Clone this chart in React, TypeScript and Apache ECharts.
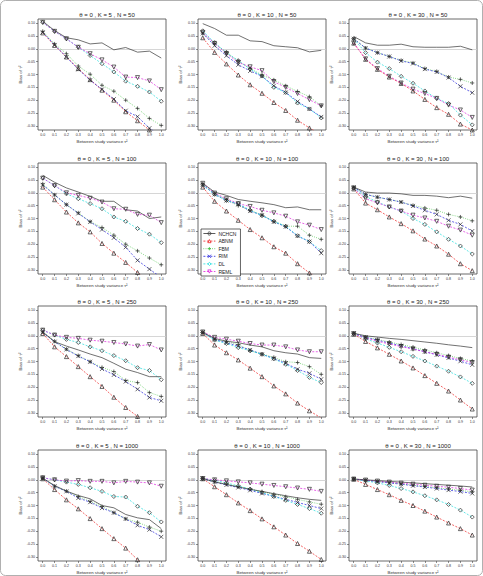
import React, { useEffect, useRef } from "react";
import * as echarts from "echarts";

// Between-study variance grid (x axis)
const tau2 = [0, 0.1, 0.2, 0.3, 0.4, 0.5, 0.6, 0.7, 0.8, 0.9, 1.0];
const xTicks = [0, 0.1, 0.2, 0.3, 0.4, 0.5, 0.6, 0.7, 0.8, 0.9, 1.0];
const yTicks = [-0.3, -0.25, -0.2, -0.15, -0.1, -0.05, 0, 0.05, 0.1];
const methods = ["NCHCN", "ABNM", "FBM", "RIM", "DL", "REML"];
const panelK = [5, 10, 30, 5, 10, 30, 5, 10, 30, 5, 10, 30];
const panelN = [50, 50, 50, 100, 100, 100, 250, 250, 250, 1000, 1000, 1000];

// Bias of tau^2, rows in the order of `methods`
const biasK5N50 = [
  [0.107, 0.071, 0.043, 0.035, 0.019, 0.023, -0.004, 0.005, -0.013, -0.009, -0.036],
  [0.062, 0.013, -0.032, -0.077, -0.12, -0.161, -0.2, -0.245, -0.28, -0.316, -0.35],
  [0.068, 0.019, -0.019, -0.067, -0.099, -0.142, -0.165, -0.2, -0.232, -0.271, -0.298],
  [0.064, 0.015, -0.032, -0.08, -0.122, -0.158, -0.196, -0.241, -0.264, -0.309, -0.34],
  [0.103, 0.068, 0.039, 0.006, -0.026, -0.058, -0.09, -0.126, -0.146, -0.168, -0.204],
  [0.103, 0.068, 0.039, 0.006, -0.019, -0.043, -0.071, -0.11, -0.112, -0.125, -0.159],
];
const biasK10N50 = [
  [0.098, 0.079, 0.053, 0.053, 0.031, 0.028, 0.012, 0.008, 0.004, -0.012, -0.006],
  [0.043, -0.014, -0.059, -0.102, -0.14, -0.173, -0.209, -0.24, -0.278, -0.308, -0.335],
  [0.061, 0.021, -0.014, -0.048, -0.077, -0.102, -0.121, -0.144, -0.166, -0.186, -0.222],
  [0.06, 0.012, -0.027, -0.062, -0.086, -0.107, -0.144, -0.17, -0.205, -0.234, -0.265],
  [0.07, 0.024, -0.015, -0.046, -0.079, -0.106, -0.15, -0.17, -0.211, -0.234, -0.269],
  [0.064, 0.021, -0.018, -0.053, -0.07, -0.085, -0.128, -0.15, -0.174, -0.198, -0.222],
];
const biasK30N50 = [
  [0.048, 0.023, 0.014, 0.014, 0.018, 0.008, 0.006, 0.006, 0.006, 0.01, -0.004],
  [0.022, -0.041, -0.08, -0.11, -0.135, -0.164, -0.197, -0.229, -0.255, -0.293, -0.316],
  [0.039, 0.003, -0.015, -0.03, -0.045, -0.055, -0.077, -0.088, -0.11, -0.119, -0.133],
  [0.039, 0.003, -0.015, -0.03, -0.047, -0.057, -0.079, -0.09, -0.112, -0.146, -0.171],
  [0.039, -0.015, -0.052, -0.077, -0.107, -0.134, -0.164, -0.193, -0.213, -0.258, -0.296],
  [0.022, -0.039, -0.077, -0.107, -0.133, -0.157, -0.174, -0.193, -0.219, -0.238, -0.267],
];
const biasK5N100 = [
  [0.068, 0.041, 0.019, 0.003, -0.014, -0.033, -0.033, -0.066, -0.071, -0.1, -0.094],
  [0.022, -0.027, -0.075, -0.117, -0.152, -0.197, -0.235, -0.271, -0.31, -0.345, -0.38],
  [0.035, -0.008, -0.046, -0.078, -0.112, -0.135, -0.165, -0.2, -0.226, -0.254, -0.28],
  [0.031, -0.008, -0.046, -0.08, -0.113, -0.143, -0.175, -0.212, -0.263, -0.297, -0.33],
  [0.057, 0.028, -0.004, -0.023, -0.042, -0.062, -0.094, -0.111, -0.139, -0.161, -0.194],
  [0.057, 0.028, 0.0, -0.01, -0.021, -0.036, -0.062, -0.064, -0.084, -0.087, -0.116],
];
const biasK10N100 = [
  [0.037, 0.003, -0.01, -0.026, -0.033, -0.039, -0.046, -0.058, -0.055, -0.066, -0.066],
  [0.022, -0.033, -0.071, -0.107, -0.143, -0.175, -0.21, -0.235, -0.276, -0.312, -0.34],
  [0.035, -0.004, -0.027, -0.05, -0.068, -0.087, -0.111, -0.13, -0.13, -0.165, -0.181],
  [0.031, -0.006, -0.03, -0.045, -0.071, -0.087, -0.113, -0.132, -0.168, -0.19, -0.235],
  [0.031, -0.006, -0.03, -0.042, -0.068, -0.089, -0.111, -0.13, -0.167, -0.19, -0.225],
  [0.037, -0.001, -0.023, -0.042, -0.053, -0.068, -0.078, -0.091, -0.113, -0.126, -0.143],
];
const biasK30N100 = [
  [0.022, 0.003, -0.001, -0.001, -0.004, -0.01, -0.01, -0.013, -0.019, -0.013, -0.021],
  [0.015, -0.04, -0.066, -0.094, -0.12, -0.148, -0.18, -0.207, -0.239, -0.276, -0.303],
  [0.022, -0.006, -0.017, -0.026, -0.036, -0.049, -0.059, -0.068, -0.084, -0.094, -0.109],
  [0.022, -0.006, -0.017, -0.026, -0.036, -0.051, -0.068, -0.084, -0.107, -0.123, -0.149],
  [0.018, -0.014, -0.036, -0.055, -0.071, -0.1, -0.123, -0.152, -0.181, -0.207, -0.238],
  [0.018, -0.023, -0.039, -0.055, -0.071, -0.087, -0.098, -0.111, -0.13, -0.145, -0.165],
];
const biasK5N250 = [
  [0.015, -0.023, -0.04, -0.055, -0.071, -0.085, -0.107, -0.13, -0.143, -0.159, -0.159],
  [0.009, -0.043, -0.081, -0.12, -0.159, -0.197, -0.239, -0.279, -0.314, -0.35, -0.39],
  [0.015, -0.021, -0.052, -0.077, -0.101, -0.123, -0.139, -0.174, -0.182, -0.221, -0.236],
  [0.013, -0.023, -0.053, -0.079, -0.101, -0.129, -0.152, -0.178, -0.208, -0.24, -0.253],
  [0.022, 0.003, -0.014, -0.026, -0.043, -0.058, -0.077, -0.097, -0.124, -0.135, -0.171],
  [0.022, 0.003, -0.006, -0.01, -0.017, -0.021, -0.026, -0.032, -0.04, -0.034, -0.055],
];
const biasK10N250 = [
  [0.013, -0.01, -0.021, -0.027, -0.036, -0.043, -0.058, -0.066, -0.071, -0.085, -0.088],
  [0.009, -0.036, -0.066, -0.094, -0.126, -0.159, -0.195, -0.226, -0.262, -0.292, -0.32],
  [0.013, -0.014, -0.023, -0.034, -0.058, -0.071, -0.084, -0.101, -0.104, -0.12, -0.15],
  [0.013, -0.014, -0.027, -0.04, -0.055, -0.072, -0.088, -0.107, -0.13, -0.146, -0.169],
  [0.013, -0.017, -0.03, -0.046, -0.058, -0.072, -0.09, -0.111, -0.135, -0.162, -0.182],
  [0.015, -0.006, -0.013, -0.021, -0.03, -0.036, -0.036, -0.043, -0.055, -0.062, -0.062],
];
const biasK30N250 = [
  [0.01, 0.0, -0.005, -0.01, -0.014, -0.019, -0.024, -0.029, -0.035, -0.04, -0.046],
  [0.006, -0.022, -0.047, -0.072, -0.098, -0.125, -0.155, -0.185, -0.215, -0.25, -0.285],
  [0.01, -0.005, -0.014, -0.024, -0.034, -0.044, -0.055, -0.066, -0.077, -0.088, -0.098],
  [0.01, -0.006, -0.017, -0.028, -0.039, -0.05, -0.062, -0.074, -0.086, -0.099, -0.113],
  [0.008, -0.012, -0.028, -0.045, -0.062, -0.08, -0.098, -0.118, -0.138, -0.16, -0.185],
  [0.008, -0.009, -0.021, -0.032, -0.042, -0.052, -0.062, -0.072, -0.083, -0.093, -0.104],
];
const biasK5N1000 = [
  [0.006, -0.022, -0.044, -0.061, -0.074, -0.1, -0.109, -0.135, -0.148, -0.155, -0.19],
  [0.004, -0.038, -0.078, -0.113, -0.151, -0.19, -0.229, -0.266, -0.311, -0.35, -0.39],
  [0.006, -0.025, -0.044, -0.065, -0.084, -0.104, -0.128, -0.152, -0.165, -0.184, -0.2],
  [0.006, -0.025, -0.045, -0.071, -0.087, -0.11, -0.128, -0.152, -0.177, -0.194, -0.222],
  [0.008, 0.0, -0.009, -0.018, -0.031, -0.045, -0.065, -0.067, -0.103, -0.128, -0.164],
  [0.008, 0.0, -0.005, -0.003, -0.006, -0.006, -0.012, -0.006, -0.009, -0.012, -0.025],
];
const biasK10N1000 = [
  [0.005, -0.008, -0.018, -0.028, -0.037, -0.045, -0.054, -0.062, -0.07, -0.076, -0.08],
  [0.004, -0.027, -0.058, -0.09, -0.12, -0.152, -0.183, -0.215, -0.248, -0.278, -0.31],
  [0.005, -0.008, -0.017, -0.027, -0.036, -0.046, -0.056, -0.066, -0.076, -0.086, -0.095],
  [0.005, -0.009, -0.02, -0.03, -0.041, -0.053, -0.064, -0.076, -0.088, -0.1, -0.112],
  [0.005, -0.002, -0.012, -0.024, -0.036, -0.05, -0.065, -0.08, -0.096, -0.112, -0.13],
  [0.005, 0.0, -0.004, -0.008, -0.012, -0.017, -0.022, -0.027, -0.032, -0.037, -0.045],
];
const biasK30N1000 = [
  [0.003, 0.0, -0.003, -0.006, -0.009, -0.012, -0.015, -0.018, -0.021, -0.024, -0.028],
  [0.002, -0.018, -0.038, -0.058, -0.08, -0.1, -0.122, -0.145, -0.168, -0.19, -0.215],
  [0.003, -0.002, -0.006, -0.011, -0.016, -0.021, -0.026, -0.031, -0.036, -0.041, -0.047],
  [0.003, -0.002, -0.007, -0.012, -0.017, -0.023, -0.028, -0.034, -0.04, -0.046, -0.053],
  [0.003, -0.004, -0.012, -0.022, -0.034, -0.047, -0.062, -0.078, -0.096, -0.118, -0.145],
  [0.003, -0.001, -0.005, -0.009, -0.013, -0.017, -0.021, -0.025, -0.029, -0.034, -0.04],
];

const panelBias = [
  biasK5N50, biasK10N50, biasK30N50,
  biasK5N100, biasK10N100, biasK30N100,
  biasK5N250, biasK10N250, biasK30N250,
  biasK5N1000, biasK10N1000, biasK30N1000,
];

// Styling per method
const methodColor = ["#333333", "#ee2222", "#33bb33", "#2222dd", "#22dddd", "#dd22dd"];
const methodDash: any[] = ["solid", [2, 1.5], [0.8, 1.4], [2, 1.5], [2, 1.5], [2, 1.5]];
const PLUS = "path://M5,0L5,10M0,5L10,5";
const CROSS = "path://M0,0L10,10M10,0L0,10";
const methodSymbol = ["none", "triangle", PLUS, CROSS, "diamond", "triangle"];
const methodRotate = [0, 0, 0, 0, 0, 180];

const FONT = "Liberation Sans, Arial, sans-serif";
const COL_LEFT = [38, 198, 349];
const ROW_TOP = [19, 163, 306, 450];
const FRAME_W = 128;
const FRAME_H = 111;

export default function App() {
  const ref = useRef<HTMLDivElement>(null);

  useEffect(() => {
    if (!ref.current) return;
    const chart = echarts.init(ref.current, null, { renderer: "svg" });

    const grids: any[] = [];
    const xAxes: any[] = [];
    const yAxes: any[] = [];
    const titles: any[] = [];
    const series: any[] = [];

    panelBias.forEach((rows, p) => {
      const r = Math.floor(p / 3);
      const c = p % 3;
      const left = COL_LEFT[c];
      const top = ROW_TOP[r];
      grids.push({
        left, top, width: FRAME_W, height: FRAME_H,
        show: true, borderColor: "#444", borderWidth: 0.8,
        backgroundColor: "transparent", containLabel: false,
      });
      titles.push({
        text: `θ = 0 , K = ${panelK[p]} , N = ${panelN[p]}`,
        left: left + FRAME_W / 2, top: top - 12, textAlign: "center",
        textStyle: { fontSize: 6, fontWeight: "normal", color: "#222", fontFamily: FONT },
      });
      xAxes.push({
        type: "value", gridIndex: p, min: -0.04, max: 1.04,
        axisLine: { show: false, onZero: false },
        splitLine: { show: false },
        axisTick: { show: true, length: 2, lineStyle: { color: "#444", width: 0.6 }, customValues: xTicks },
        axisLabel: {
          fontSize: 3.6, margin: 3, color: "#333", fontFamily: FONT,
          customValues: xTicks, formatter: (v: number) => v.toFixed(1),
        },
        name: "Between study variance τ²", nameLocation: "middle", nameGap: 9,
        nameTextStyle: { fontSize: 4.4, color: "#333", fontFamily: FONT },
      });
      yAxes.push({
        type: "value", gridIndex: p, min: -0.316, max: 0.116,
        axisLine: { show: false, onZero: false },
        splitLine: { show: false },
        axisTick: { show: true, length: 2, lineStyle: { color: "#444", width: 0.6 }, customValues: yTicks },
        axisLabel: {
          fontSize: 3.6, margin: 3, color: "#333", fontFamily: FONT,
          customValues: yTicks, formatter: (v: number) => v.toFixed(2),
        },
        name: "Bias of τ²", nameLocation: "middle", nameGap: 15, nameRotate: 90,
        nameTextStyle: { fontSize: 4.4, color: "#333", fontFamily: FONT },
      });
      rows.forEach((vals, m) => {
        series.push({
          type: "line",
          name: methods[m],
          xAxisIndex: p,
          yAxisIndex: p,
          data: tau2.map((t, j) => [t, vals[j]]),
          symbol: methodSymbol[m],
          symbolSize: 4,
          symbolRotate: methodRotate[m],
          symbolKeepAspect: true,
          showAllSymbol: true,
          clip: true,
          silent: true,
          z: m === 0 ? 3 : 2,
          lineStyle: { color: methodColor[m], width: 0.7, type: methodDash[m] },
          itemStyle: { color: "rgba(0,0,0,0)", borderColor: "#2a2a2a", borderWidth: 0.7 },
          markLine: m === 0 ? {
            silent: true, symbol: "none", label: { show: false },
            lineStyle: { color: "#cccccc", width: 0.8, type: "solid" },
            data: [{ yAxis: 0 }],
            z: 1,
          } : undefined,
        });
      });
    });

    chart.setOption({
      animation: false,
      backgroundColor: "#ffffff",
      textStyle: { fontFamily: FONT },
      title: titles,
      grid: grids,
      xAxis: xAxes,
      yAxis: yAxes,
      series,
      legend: {
        data: methods.map((name, i) => ({
          name,
          itemStyle: {
            color: "rgba(0,0,0,0)",
            borderColor: methodColor[i],
            borderWidth: 0.8,
          },
          lineStyle: { color: methodColor[i], width: 0.8, type: methodDash[i] },
        })),
        orient: "vertical",
        left: COL_LEFT[1] + 3,
        top: ROW_TOP[1] + 66,
        itemWidth: 12,
        itemHeight: 4,
        itemGap: 2.6,
        padding: [2, 4, 2, 2],
        borderColor: "#222",
        borderWidth: 0.7,
        backgroundColor: "#ffffff",
        selectedMode: false,
        textStyle: { fontSize: 5, color: "#222", fontFamily: FONT, padding: [0, 0, 0, -2] },
      },
      graphic: [
        {
          type: "rect",
          shape: { x: 0.5, y: 0.5, width: 482, height: 575, r: 5 },
          style: { fill: "none", stroke: "#b0b0b0", lineWidth: 1 },
          silent: true,
        },
      ],
    });

    return () => chart.dispose();
  }, []);

  return (
    <div
      ref={ref}
      style={{ position: "fixed", left: 0, top: 0, width: 483, height: 576, background: "#fff" }}
    />
  );
}
